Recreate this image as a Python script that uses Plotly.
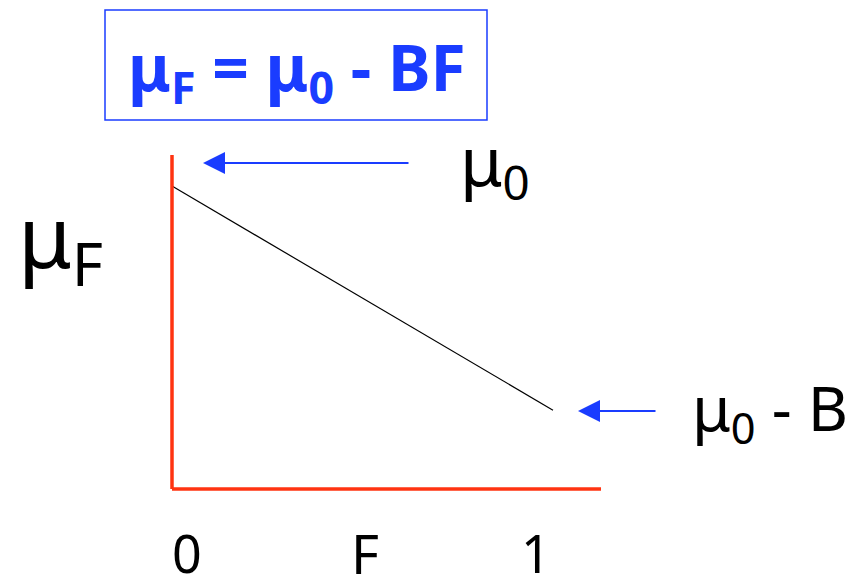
import plotly.graph_objects as go

# data: mu_F = mu_0 - B*F
F_vals = [0, 1]
mu0 = 1.0
B = 0.74
mu_vals = [mu0 - B * f for f in F_vals]
tick_labels = ["0", "1"]

W, H = 854, 588
OFF = 8  # page body margin
BLUE = "#1a3cff"
RED = "#ff3311"
FONT = "Noto Sans"

# pixel scale used to place the diagram (page pixels)
PX_X = 381.0
PX_Y = 303.0
X0_PX, Y0_PX = 172, 489


def px(xp, yp):
    # page pixel -> data units
    return (xp - X0_PX) / PX_X, (Y0_PX - yp) / PX_Y


fig = go.Figure()
fig.add_trace(go.Scatter(x=F_vals, y=mu_vals, mode="lines",
                         line=dict(color="black", width=1.2),
                         hoverinfo="skip", showlegend=False))

# red axes
ax_top = px(0, 155)[1]
ax_right = px(601, 0)[0]
fig.add_shape(type="line", x0=0, x1=0, y0=0, y1=ax_top,
              line=dict(color=RED, width=3.5))
fig.add_shape(type="line", x0=0, x1=ax_right, y0=0, y1=0,
              line=dict(color=RED, width=3.5))

# formula box
fig.add_shape(type="rect", xref="paper", yref="paper",
              x0=(105 - OFF) / W, x1=(487 - OFF) / W,
              y0=1 - (120 - OFF) / H, y1=1 - (10 - OFF) / H,
              line=dict(color=BLUE, width=1.5))


def note(text, xp, yp, size, color="black", bold=False):
    fig.add_annotation(x=(xp - OFF) / W, y=1 - (yp - OFF) / H,
                       xref="paper", yref="paper",
                       text=f"<b>{text}</b>" if bold else text,
                       showarrow=False, xanchor="center", yanchor="middle",
                       font=dict(family=FONT, size=size, color=color))


note("μ<sub>F</sub> = μ<sub>0</sub> - BF", 297, 70, 64, BLUE, bold=True)
note("μ<sub>F</sub>", 60, 240, 86)
note("μ<sub>0</sub>", 495, 163, 68)
note("μ<sub>0</sub> - B", 770, 411, 62)
note(tick_labels[0], 187, 552, 52)
note("F", 365, 553, 54)
note(tick_labels[1], 536, 552, 52)

# blue arrows
for head, tail in [((203, 163), (410, 163)), ((578, 411), (657, 411))]:
    hx, hy = px(*head)
    tx, ty = px(*tail)
    fig.add_annotation(x=hx, y=hy, ax=tx, ay=ty, xref="x", yref="y",
                       axref="x", ayref="y", text="", showarrow=True,
                       arrowhead=2, arrowsize=2.2, arrowwidth=2,
                       arrowcolor=BLUE)

# figure pixel (0,0) sits at page pixel (OFF, OFF)
fig.update_layout(
    width=W, height=H,
    margin=dict(l=0, r=0, t=0, b=0),
    plot_bgcolor="white", paper_bgcolor="white",
    xaxis=dict(range=[px(OFF, 0)[0], px(W + OFF, 0)[0]], visible=False),
    yaxis=dict(range=[px(0, H + OFF)[1], px(0, OFF)[1]], visible=False),
)

fig.write_html("out.html")
